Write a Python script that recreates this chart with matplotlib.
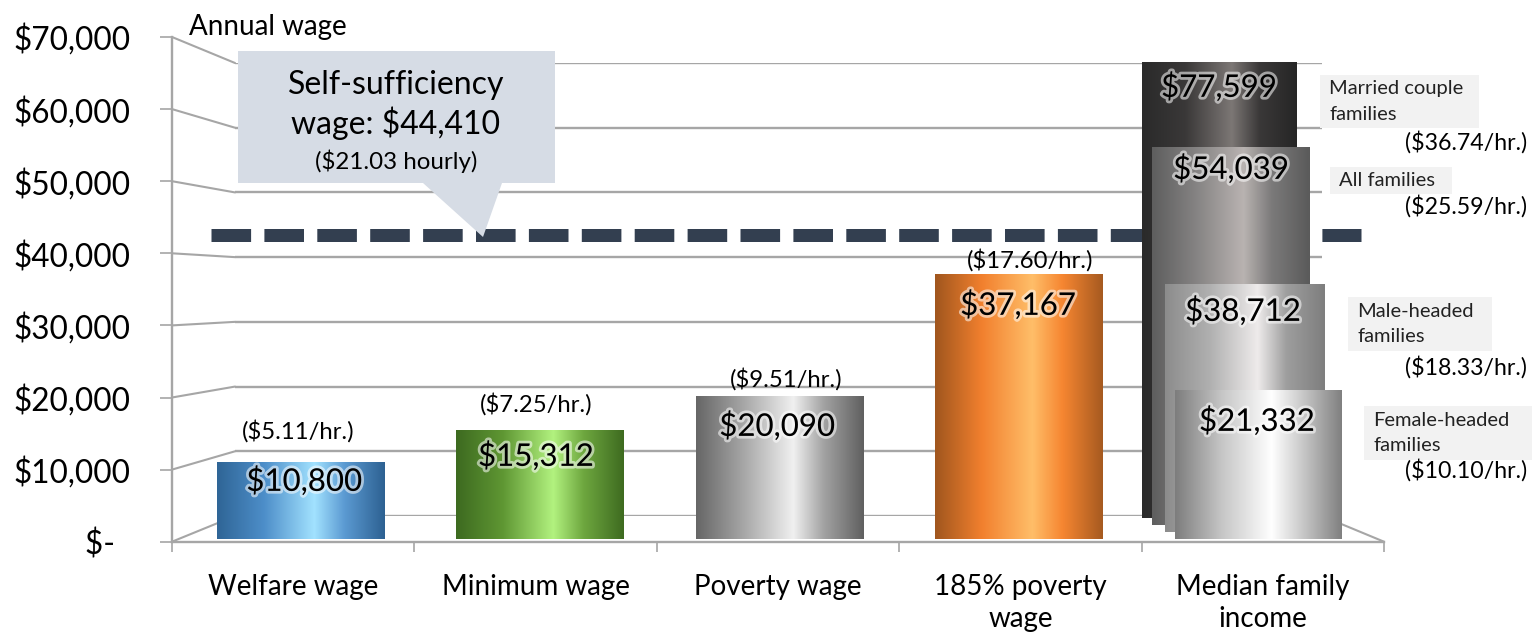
import numpy as np
import matplotlib
matplotlib.use("Agg")
import matplotlib.pyplot as plt
import matplotlib.patheffects as pe
from matplotlib.colors import LinearSegmentedColormap
from matplotlib.patches import ConnectionPatch, Polygon, Rectangle

# ---- data ----
categories = ["Welfare wage", "Minimum wage", "Poverty wage", "185% poverty\nwage", "Median family\nincome"]
wage_values = [10800, 15312, 20090, 37167]
wage_hourly = ["($5.11/hr.)", "($7.25/hr.)", "($9.51/hr.)", "($17.60/hr.)"]
family_names = ["Married couple\nfamilies", "All families", "Male-headed\nfamilies", "Female-headed\nfamilies"]
family_values = [77599, 54039, 38712, 21332]
family_hourly = ["($36.74/hr.)", "($25.59/hr.)", "($18.33/hr.)", "($10.10/hr.)"]
# the picture draws these columns at heights that differ from their labels
family_drawn_top = [66950, 55020, 35800, 20940]
family_drawn_base = [2990, 2000, 1065, 0]
self_sufficiency_drawn = 42470
y_ticks = [0, 10000, 20000, 30000, 40000, 50000, 60000, 70000]
y_labels = ["$-  ", "$10,000", "$20,000", "$30,000", "$40,000", "$50,000", "$60,000", "$70,000"]

# ---- styles ----
W, H = 1533, 632
plt.rcParams["font.family"] = ["Lato", "DejaVu Sans"]
GRID = "#a6a6a6"
wage_stops = [
    ["#2f6596", "#4d8ec9", "#a2e2ff", "#5b9ad2", "#2d6192"],
    ["#3d6a20", "#5f9733", "#b2f27f", "#6ea73f", "#3e6b20"],
    ["#666666", "#a6a6a6", "#f0f0f0", "#a3a3a3", "#606060"],
    ["#a0561e", "#f2802e", "#ffbe69", "#f68631", "#a65a20"],
]
family_stops = [
    ["#2a2a2a", "#3a3838", "#7c7775", "#3a3838", "#262626"],
    ["#5e5e5e", "#858383", "#b9b3b1", "#7b7a7a", "#5a5a5a"],
    ["#8c8c8c", "#b0b0b0", "#eeebeb", "#9e9e9e", "#7e7e7e"],
    ["#7d7d7d", "#c6c6c6", "#ffffff", "#cacaca", "#808080"],
]
family_offset = [-0.160, -0.110, -0.053, 0.0]
family_width = [0.644, 0.660, 0.667, 0.694]
wage_width = 0.698
value_xy = [(304, 481), (536, 456), (777, 426), (1018, 305), (1219, 87), (1231, 169), (1243, 311), (1257, 421)]
wage_hourly_xy = [(298, 431), (536, 404), (786, 379), (1030, 260)]
family_hourly_y = [142, 206, 367, 470]
family_box = [(1320, 75, 1479, 128), (1330, 167, 1452, 194), (1348, 297, 1492, 351), (1364, 406, 1532, 460)]


def axes_px(fig, left, top, right, bottom, zorder):
    a = fig.add_axes([left / W, 1 - bottom / H, (right - left) / W, (bottom - top) / H], zorder=zorder)
    a.patch.set_alpha(0)
    return a


fig = plt.figure(figsize=(W / 100, H / 100), dpi=100, facecolor="white")

# back wall with its gridlines
back = axes_px(fig, 235, 63, 1322, 516, 0)
back.set_xlim(0, 1)
back.set_ylim(0, 70000)
back.set_yticks(y_ticks)
back.set_xticks([])
back.tick_params(left=False, labelleft=False)
back.grid(axis="y", color=GRID, lw=1.7)
for s in back.spines.values():
    s.set_visible(False)

# front axis
ax = axes_px(fig, 172, 37, 1384, 541.7, 1)
ax.set_xlim(-0.5, 4.5)
ax.set_ylim(0, 70000)
ax.set_yticks(y_ticks)
ax.set_yticklabels(y_labels, fontsize=22.7, color="black")
ax.tick_params(axis="y", length=8.6, width=1.2, color=GRID, pad=21)
ax.set_xticks(np.arange(-0.5, 5, 1))
ax.set_xticklabels([])
ax.set_xticks(range(5), minor=True)
ax.set_xticklabels(categories, minor=True, fontsize=20, linespacing=1.32, va="top")
ax.tick_params(axis="x", which="minor", length=0, pad=23)
ax.tick_params(axis="x", which="major", length=7.5, width=1.2, color=GRID)
for name, s in ax.spines.items():
    if name in ("top", "right"):
        s.set_visible(False)
    else:
        s.set_color(GRID)
        s.set_linewidth(1.7)

# side-wall and floor lines joining front axis to the back wall
for v in y_ticks:
    fig.add_artist(ConnectionPatch((-0.5, v), (0, v), coordsA=ax.transData, coordsB=back.transData,
                                   color=GRID, lw=1.5, zorder=0.5))
fig.add_artist(ConnectionPatch((4.5, 0), (1, 0), coordsA=ax.transData, coordsB=back.transData,
                               color=GRID, lw=1.5, zorder=0.5))

# self-sufficiency dashes
ax.plot([-0.339, 4.405], [self_sufficiency_drawn] * 2, color="#333f50", lw=13 * 0.72,
        dashes=(39.6 / 13, 13.3 / 13), dash_capstyle="butt", zorder=2)

# columns
bars = axes_px(fig, 180.85, 40.2, 1377.35, 539.3, 2)
bars.set_xlim(-0.5, 4.5)
bars.set_ylim(0, 70000)
bars.axis("off")


def gradient_column(x, base, height, width, stops, z):
    rect = bars.bar(x, height, width=width, bottom=base, color="none", zorder=z)[0]
    cmap = LinearSegmentedColormap.from_list("c", list(zip([0, 0.28, 0.58, 0.76, 1], stops)))
    im = bars.imshow(np.linspace(0, 1, 256)[None, :], cmap=cmap, aspect="auto", zorder=z,
                     extent=(rect.get_x(), rect.get_x() + width, base, base + height))
    im.set_clip_path(rect)


for i, v in enumerate(wage_values):
    gradient_column(i, 0, v, wage_width, wage_stops[i], 3 + i)
for i, (top, base) in enumerate(zip(family_drawn_top, family_drawn_base)):
    gradient_column(4 + family_offset[i], base, top - base, family_width[i], family_stops[i], 10 + i)
bars.set_xlim(-0.5, 4.5)
bars.set_ylim(0, 70000)

# annotation layer in picture pixels
over = axes_px(fig, 0, 0, W, H, 3)
over.set_xlim(0, W)
over.set_ylim(H, 0)
over.axis("off")

over.add_patch(Polygon([(238, 51), (555, 51), (555, 183), (502, 183), (483, 237), (423, 183), (238, 183)],
                       closed=True, facecolor="#d6dce5", edgecolor="none"))
over.text(396, 85, "Self-sufficiency", fontsize=23, ha="center", va="center")
over.text(396, 123, "wage: $44,410", fontsize=23, ha="center", va="center")
over.text(396, 161, "($21.03 hourly)", fontsize=17.4, ha="center", va="center")
over.text(189, 27, "Annual wage", fontsize=20, ha="left", va="center")

glow = [pe.withStroke(linewidth=4, foreground="white", alpha=0.55)]
all_values = wage_values + family_values
for (x, y), v in zip(value_xy, all_values):
    over.text(x, y, f"${v:,}", fontsize=22.5, ha="center", va="center", path_effects=glow)
for (x, y), t in zip(wage_hourly_xy, wage_hourly):
    over.text(x, y, t, fontsize=17.2, ha="center", va="center")

for name, box, hr, hy in zip(family_names, family_box, family_hourly, family_hourly_y):
    x0, y0, x1, y1 = box
    over.add_patch(Rectangle((x0, y0), x1 - x0, y1 - y0, facecolor="#f2f2f2", edgecolor="none"))
    over.text(x0 + 9, (y0 + y1) / 2, name, fontsize=14.5, ha="left", va="center", linespacing=1.6, color="#222222")
    over.text(1527, hy, hr, fontsize=16.7, ha="right", va="center")

fig.savefig("out.png", dpi=100)
